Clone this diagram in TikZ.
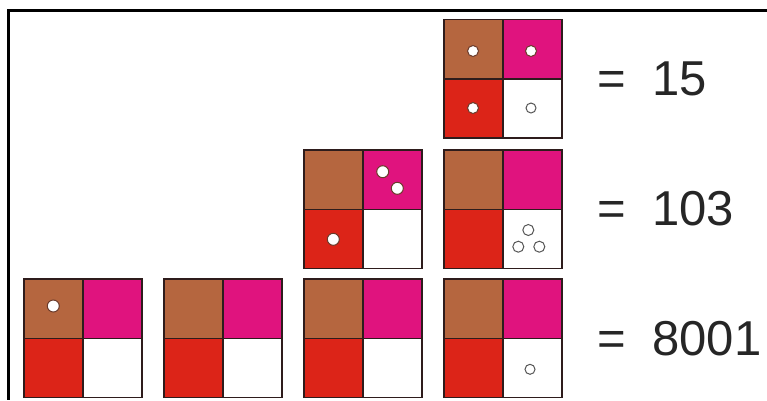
\documentclass[tikz,border=0pt]{standalone}
\usepackage{fontspec}
\setmainfont{Liberation Sans}
\definecolor{cbrown}{HTML}{B5663F}
\definecolor{cmag}{HTML}{E0137E}
\definecolor{cred}{HTML}{DC2418}
\definecolor{cedge}{HTML}{2E1C1C}
\definecolor{cdotedge}{HTML}{6A3A2A}
\definecolor{chollow}{HTML}{555555}
\newcommand{\cellblock}[2]{%
  \fill[cbrown] (#1,#2) rectangle ++(59,59.25);
  \fill[cmag] (#1+59,#2) rectangle ++(59,59.25);
  \fill[cred] (#1,#2+59.25) rectangle ++(59,59.25);
  \fill[white] (#1+59,#2+59.25) rectangle ++(59,59.25);
  \draw[blockedge] (#1,#2) rectangle ++(118,118.5);
  \draw[blockedge] (#1+59,#2) -- ++(0,118.5);
  \draw[blockedge] (#1,#2+59.25) -- ++(118,0);
}
\tikzset{
  blockedge/.style={draw=cedge, line width=1.5pt},
  fulldot/.style={fill=white, draw=cdotedge, line width=1pt},
  hollowdot/.style={fill=white, draw=chollow, line width=1pt},
  eqtext/.style={anchor=base west, inner sep=0pt, font=\fontsize{49}{55}\selectfont, text=black!85}
}
\begin{document}
\begin{tikzpicture}[x=1pt,y=-1pt]
\useasboundingbox (0,0) rectangle (767,400);
\fill[white] (0,0) rectangle (767,400);
\draw[line width=2.7pt, black] (767,10.7) -- (8.7,10.7) -- (8.7,400);
% bottom row
\cellblock{24}{279}
\cellblock{164}{279}
\cellblock{304}{279}
\cellblock{444}{279}
% middle row
\cellblock{304}{150}
\cellblock{444}{150}
% top row
\cellblock{444}{19.5}
% dots top block
\filldraw[fulldot] (473,51) circle (5.5);
\filldraw[fulldot] (531,51) circle (5.5);
\filldraw[fulldot] (473,108) circle (5.5);
\filldraw[hollowdot] (531,108) circle (5);
% middle blocks
\filldraw[fulldot] (382.7,171.7) circle (6);
\filldraw[fulldot] (397.3,188.3) circle (6);
\filldraw[fulldot] (333.3,239.3) circle (6);
\filldraw[hollowdot] (528.3,230) circle (5.5);
\filldraw[hollowdot] (518.3,246.7) circle (5.5);
\filldraw[hollowdot] (539.3,246.7) circle (5.5);
% bottom blocks
\filldraw[fulldot] (53.3,306) circle (6);
\filldraw[hollowdot] (530,369.3) circle (5);
% labels
\node[eqtext] (l15) at (597.5,95) {=\hspace{26pt}15};
\node[eqtext] (l103) at (597.5,225) {=\hspace{26pt}103};
\node[eqtext] (l8001) at (597.5,355) {=\hspace{26pt}8001};
\end{tikzpicture}
\end{document}
